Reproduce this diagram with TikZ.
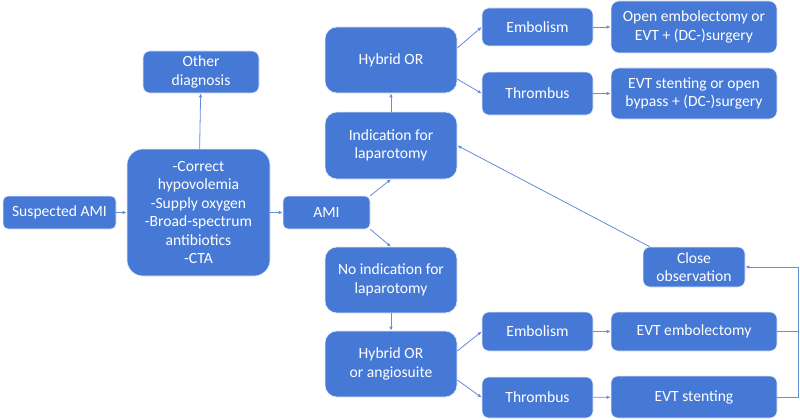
\documentclass[tikz,border=0pt]{standalone}
\usepackage{fontspec}
\setmainfont{Carlito}
\usetikzlibrary{arrows.meta,calc}
\definecolor{boxblue}{RGB}{70,121,214}
\definecolor{lineblue}{RGB}{100,140,215}
\begin{document}
\begin{tikzpicture}[x=1pt,y=-1pt,
  box/.style={draw=white!85!boxblue,line width=0.6pt,fill=boxblue,text=white,align=center,inner sep=0pt,
    font=\fontsize{15.6}{18.5}\selectfont,rounded corners=#1},
  box/.default=7pt,
  arr/.style={draw=lineblue,line width=0.8pt,-{Latex[length=4pt,width=3.5pt]}},
  ln/.style={draw=lineblue,line width=0.8pt}]
\useasboundingbox (0,0) rectangle (800,420);
\node[box=5pt,minimum width=113,minimum height=33] (sus) at (59.5,212.5) {Suspected AMI};
\node[box=16pt,minimum width=143,minimum height=127] (prep) at (198.5,212.5) {-Correct\\hypovolemia\\-Supply oxygen\\-Broad-spectrum\\antibiotics\\-CTA};
\node[box=7pt,minimum width=116,minimum height=42] (other) at (201,72) {Other\\diagnosis};
\node[box=5pt,minimum width=87,minimum height=33] (ami) at (326.5,212.5) {AMI};
\node[box=12pt,minimum width=132,minimum height=67] (ind) at (391,145.5) {Indication for\\laparotomy};
\node[box=12pt,minimum width=132,minimum height=66] (hor) at (391,60) {Hybrid OR};
\node[box=7pt,minimum width=111,minimum height=38] (emb1) at (537.5,27) {Embolism};
\node[box=7pt,minimum width=111,minimum height=43] (thr1) at (537.5,93.5) {Thrombus};
\node[box=8pt,minimum width=166,minimum height=52] (oe) at (694,27) {Open embolectomy or\\EVT + (DC-)surgery};
\node[box=8pt,minimum width=166,minimum height=51] (es) at (694,93.5) {EVT stenting or open\\bypass + (DC-)surgery};
\node[box=12pt,minimum width=132,minimum height=66] (noind) at (391,280) {No indication for\\laparotomy};
\node[box=12pt,minimum width=132,minimum height=66] (hora) at (391,364) {Hybrid OR\\or angiosuite};
\node[box=7pt,minimum width=111,minimum height=39] (emb2) at (537.5,331.5) {Embolism};
\node[box=7pt,minimum width=111,minimum height=41] (thr2) at (537.5,397.5) {Thrombus};
\node[box=7pt,minimum width=166,minimum height=39] (evte) at (694,331.5) {EVT embolectomy};
\node[box=7pt,minimum width=166,minimum height=42] (evts) at (694,397) {EVT stenting};
\node[box=7pt,minimum width=102,minimum height=40] (close) at (694,267) {Close\\observation};
% connectors
\draw[arr] (sus) -- (prep);
\draw[arr] (prep) -- (ami);
\draw[arr] (prep) -- (other);
\draw[arr] (ami.north east) -- (ind.south);
\draw[arr] (ami.south east) -- (noind.north);
\draw[arr] (ind) -- (hor);
\draw[arr] (noind) -- (hora);
\draw[arr] ($(hor.east)+(0,-12)$) -- (emb1.west);
\draw[arr] ($(hor.east)+(0,19)$) -- (thr1.west);
\draw[arr] (emb1) -- (oe);
\draw[arr] (thr1) -- (es);
\draw[arr] ($(hora.east)+(0,-13)$) -- (emb2.west);
\draw[arr] ($(hora.east)+(0,16)$) -- (thr2.west);
\draw[arr] (emb2) -- (evte);
\draw[arr] (thr2) -- (evts);
\coordinate (loopx) at (798,0);
\draw[ln] (evte.east) -- (evte.east -| loopx);
\draw[arr] (evts.east) -- (evts.east -| loopx) |- (close.east);
\draw[arr] ($(close.north west)+(7,0)$) -- (ind.east);
\end{tikzpicture}
\end{document}
